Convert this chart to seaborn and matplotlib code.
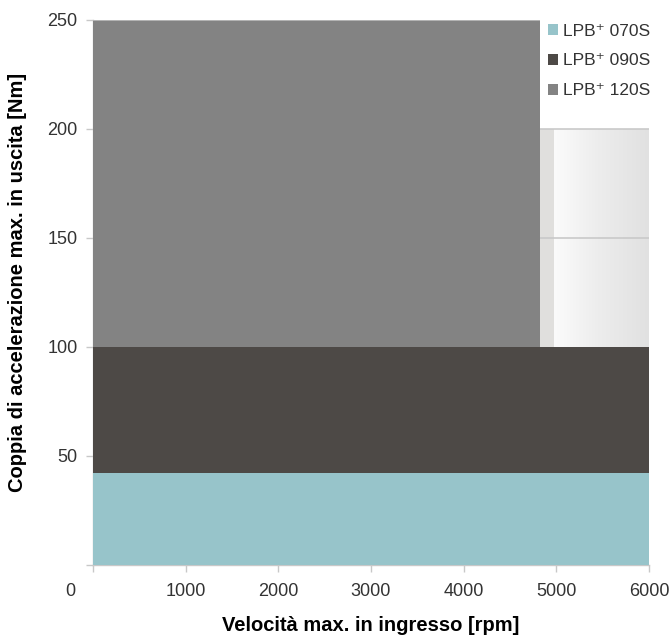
import numpy as np
import matplotlib
matplotlib.use('Agg')
import matplotlib.pyplot as plt
import matplotlib.colors as mcolors
from matplotlib.patches import Patch
import seaborn as sns

# Data
models = ['LPB\u207a 070S', 'LPB\u207a 090S', 'LPB\u207a 120S']
torque_low = [0, 42, 100]        # Nm, bottom of each band
torque_high = [42, 100, 250]     # Nm, top of each band
speed_max = [6000, 6000, 4820]   # rpm
colors = ['#97c4ca', '#4d4946', '#838383']

# light area beyond the 120S band
ext_speed = [4820, 4980, 6000]
ext_torque = [100, 200]

y_ticks = [50, 100, 150, 200, 250]
x_ticks = [1000, 2000, 3000, 4000, 5000, 6000]

sns.set_style('white')
plt.rcParams['font.family'] = ['Liberation Sans', 'DejaVu Sans']

fig = plt.figure(figsize=(6.72, 6.36), dpi=100)
ax = fig.add_axes([93 / 672, 1 - 565 / 636, 556 / 672, 545 / 636])

# light extension region: flat strip then a gradient
ax.bar(ext_speed[0], ext_torque[1] - ext_torque[0], width=ext_speed[1] - ext_speed[0],
       bottom=ext_torque[0], align='edge', color='#e0dfdd', linewidth=0, zorder=1)
grad = np.linspace(0, 1, 256).reshape(1, -1)
cmap = mcolors.LinearSegmentedColormap.from_list('g', ['#fbfbfb', '#ececec', '#e1e1e1'])
ax.imshow(grad, cmap=cmap, aspect='auto', zorder=1,
          extent=(ext_speed[1], ext_speed[2], ext_torque[0], ext_torque[1]))
for yv in [150, 200]:
    ax.hlines(yv, ext_speed[0], ext_speed[2], color='#c9c9c9', lw=1.2, zorder=2)

# main bands
for lo, hi, sp, c in zip(torque_low, torque_high, speed_max, colors):
    ax.bar(0, hi - lo, width=sp, bottom=lo, align='edge', color=c, linewidth=0, zorder=3)
ax.hlines(torque_high[2], 0, speed_max[2], color='#bdbdbd', lw=1.2, zorder=4)

ax.set_xlim(0, 6000)
ax.set_ylim(0, 250)
ax.set_xticks([0] + x_ticks)
ax.set_xticklabels([''] + [str(v) for v in x_ticks])
ax.set_yticks([0] + y_ticks)
ax.set_yticklabels([''] + [str(v) for v in y_ticks])
ax.annotate('0', xy=(0, 0), xycoords='data', xytext=(-23, -27), textcoords='offset pixels',
            ha='center', va='center', fontsize=13, color='#333333')

for s in ['top', 'right']:
    ax.spines[s].set_visible(False)
for s in ['left', 'bottom']:
    ax.spines[s].set_color('#c8c8c8')
    ax.spines[s].set_linewidth(1.0)
ax.tick_params(axis='both', direction='out', length=5, width=1, color='#c8c8c8',
               labelsize=13, labelcolor='#333333', pad=6, bottom=True, left=True)
ax.tick_params(axis='x', pad=8)

ax.set_xlabel('Velocità max. in ingresso [rpm]', fontsize=14.5, fontweight='bold', color='black')
ax.set_ylabel('Coppia di accelerazione max. in uscita [Nm]', fontsize=14.5, fontweight='bold',
              color='black')
ax.xaxis.set_label_coords(0.5, -0.094)
ax.yaxis.set_label_coords(-0.119, 0.519)

handles = [Patch(facecolor=c, edgecolor='none') for c in colors]
ax.legend(handles, models, loc='upper left', bbox_to_anchor=(0.806, 1.006), frameon=False,
          fontsize=12.5, handlelength=0.6, handleheight=0.6, handletextpad=0.25,
          labelspacing=0.85, borderaxespad=0, labelcolor='#333333')

fig.savefig('out.png', dpi=100)
